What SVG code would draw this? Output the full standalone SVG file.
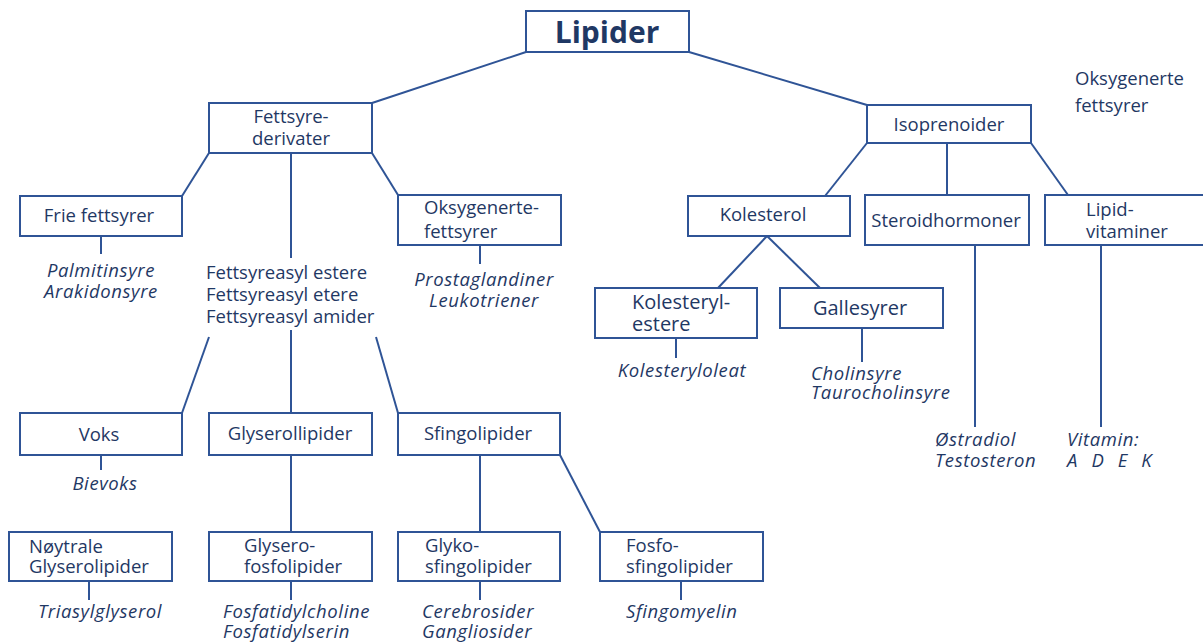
<svg xmlns="http://www.w3.org/2000/svg" width="1203" height="642" viewBox="0 0 1203 642">
<style>
.b{fill:#fff;stroke:#2f5496;stroke-width:2}
.c line{stroke:#2f5496;stroke-width:2;fill:none}
text{font-family:"Open Sans","Noto Sans","Liberation Sans",sans-serif;font-size:18.5px;fill:#1f3864}
.i{font-style:italic;letter-spacing:0.6px}
.m{text-anchor:middle}
</style>
<rect width="1203" height="642" fill="#fff"/>
<g class="c" id="connectors">
<line x1="526" y1="52" x2="372" y2="103"/>
<line x1="689" y1="52" x2="867" y2="105"/>
<line x1="209" y1="153" x2="182" y2="196"/>
<line x1="291" y1="153" x2="291" y2="258"/>
<line x1="372" y1="153" x2="398" y2="195"/>
<line x1="101" y1="236" x2="101" y2="254"/>
<line x1="480" y1="245" x2="480" y2="264"/>
<line x1="209" y1="337" x2="182" y2="413"/>
<line x1="291" y1="330" x2="291" y2="413"/>
<line x1="376" y1="337" x2="398" y2="413"/>
<line x1="101" y1="455" x2="101" y2="470"/>
<line x1="291" y1="455" x2="291" y2="532"/>
<line x1="480" y1="455" x2="480" y2="532"/>
<line x1="560" y1="455" x2="600" y2="532"/>
<line x1="89" y1="581" x2="89" y2="600"/>
<line x1="291" y1="581" x2="291" y2="600"/>
<line x1="480" y1="581" x2="480" y2="600"/>
<line x1="681" y1="581" x2="681" y2="600"/>
<line x1="867" y1="143" x2="825" y2="196"/>
<line x1="947" y1="143" x2="947" y2="195"/>
<line x1="1031" y1="143" x2="1068" y2="195"/>
<line x1="767" y1="236" x2="718" y2="288"/>
<line x1="767" y1="236" x2="820" y2="288"/>
<line x1="676" y1="338" x2="676" y2="358"/>
<line x1="862" y1="328" x2="862" y2="362"/>
<line x1="975" y1="245" x2="975" y2="427"/>
<line x1="1101" y1="245" x2="1101" y2="427"/>
</g>
<g id="lipider"><rect class="b" x="526" y="11" width="163" height="41"/><text class="m" x="607" y="43" style="font-size:30px;font-weight:bold">Lipider</text></g>
<g id="fettsyrederivater"><rect class="b" x="209" y="103" width="163" height="50"/><text class="m" x="291" y="123">Fettsyre-</text><text class="m" x="291" y="145">derivater</text></g>
<g id="isoprenoider"><rect class="b" x="867" y="105" width="164" height="38"/><text class="m" x="949" y="131">Isoprenoider</text></g>
<g id="oksygenerte-stray"><text x="1075" y="85">Oksygenerte</text><text x="1075" y="112">fettsyrer</text></g>
<g id="frie"><rect class="b" x="20" y="196" width="162" height="40"/><text class="m" x="99" y="222">Frie fettsyrer</text><text class="i m" x="101" y="277">Palmitinsyre</text><text class="i m" x="101" y="298">Arakidonsyre</text></g>
<g id="fettsyreasyl"><text x="206" y="279">Fettsyreasyl estere</text><text x="206" y="301">Fettsyreasyl etere</text><text x="206" y="323">Fettsyreasyl amider</text></g>
<g id="oksygenerte"><rect class="b" x="398" y="195" width="163" height="50"/><text x="424" y="214">Oksygenerte-</text><text x="424" y="238">fettsyrer</text><text class="i m" x="484" y="286">Prostaglandiner</text><text class="i m" x="484" y="307">Leukotriener</text></g>
<g id="kolesterol"><rect class="b" x="688" y="196" width="162" height="40"/><text class="m" x="763" y="221">Kolesterol</text></g>
<g id="steroidhormoner"><rect class="b" x="865" y="195" width="164" height="50"/><text class="m" x="946" y="227">Steroidhormoner</text><text class="i" x="935" y="446">Østradiol</text><text class="i" x="935" y="467">Testosteron</text></g>
<g id="lipidvitaminer"><rect class="b" x="1045" y="195" width="170" height="50"/><text x="1086" y="216">Lipid-</text><text x="1086" y="238">vitaminer</text><text class="i" x="1067" y="446">Vitamin:</text><text class="i" x="1067" y="467" style="word-spacing:8px">A D E K</text></g>
<g id="kolesterylestere"><rect class="b" x="595" y="288" width="162" height="50"/><text x="632" y="309" style="font-size:20px">Kolesteryl-</text><text x="632" y="331" style="font-size:20px">estere</text><text class="i m" x="682" y="377">Kolesteryloleat</text></g>
<g id="gallesyrer"><rect class="b" x="780" y="288" width="163" height="40"/><text class="m" x="860" y="315" style="font-size:20px">Gallesyrer</text><text class="i" x="811" y="380">Cholinsyre</text><text class="i" x="811" y="399">Taurocholinsyre</text></g>
<g id="voks"><rect class="b" x="20" y="413" width="162" height="42"/><text class="m" x="99" y="441">Voks</text><text class="i m" x="105" y="490">Bievoks</text></g>
<g id="glyserollipider"><rect class="b" x="209" y="413" width="163" height="42"/><text class="m" x="290" y="440">Glyserollipider</text></g>
<g id="sfingolipider"><rect class="b" x="398" y="413" width="162" height="42"/><text class="m" x="478" y="440">Sfingolipider</text></g>
<g id="noytrale"><rect class="b" x="9" y="532" width="163" height="49"/><text x="29" y="553">Nøytrale</text><text x="29" y="573">Glyserolipider</text><text class="i m" x="100" y="618">Triasylglyserol</text></g>
<g id="glyserofosfolipider"><rect class="b" x="209" y="532" width="163" height="49"/><text x="244" y="552">Glysero-</text><text x="244" y="573">fosfolipider</text><text class="i" x="223" y="618">Fosfatidylcholine</text><text class="i" x="223" y="638">Fosfatidylserin</text></g>
<g id="glykosfingolipider"><rect class="b" x="398" y="532" width="162" height="49"/><text x="425" y="552">Glyko-</text><text x="425" y="573">sfingolipider</text><text class="i" x="422" y="618">Cerebrosider</text><text class="i" x="422" y="638">Gangliosider</text></g>
<g id="fosfosfingolipider"><rect class="b" x="600" y="532" width="163" height="49"/><text x="626" y="552">Fosfo-</text><text x="626" y="573">sfingolipider</text><text class="i" x="626" y="618">Sfingomyelin</text></g>
</svg>
